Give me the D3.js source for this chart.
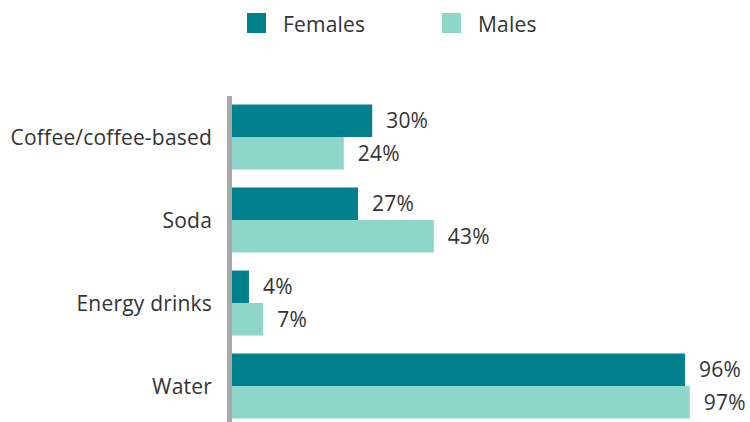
<!DOCTYPE html>
<html>
<head>
<meta charset="utf-8">
<script src="https://cdn.jsdelivr.net/npm/d3@7"></script>
<style>
  html, body { margin: 0; padding: 0; background: #fff; }
  svg { display: block; font-family: "Open Sans", "Noto Sans", sans-serif; }
</style>
</head>
<body>
<svg id="chart" width="750" height="422"></svg>
<script>
// Share of respondents drinking each beverage, by sex
const categories = ["Coffee/coffee-based", "Soda", "Energy drinks", "Water"];
const females = [30, 27, 4, 96];
const males = [24, 43, 7, 97];
const seriesNames = ["Females", "Males"];
const seriesColors = ["#00808c", "#8ed6c9"];

const series = [females, males];
const svg = d3.select("#chart");

const x = d3.scaleLinear().domain([0, 100]).range([230, 704]);

const y = d3.scaleBand()
  .domain(categories)
  .range([95.5, 427.5])
  .paddingInner(0.217)
  .paddingOuter(0.1085);

const inner = d3.scaleBand()
  .domain(seriesNames)
  .range([0, y.bandwidth()]);

// bars and value labels
const groups = svg.append("g").selectAll("g")
  .data(categories)
  .join("g")
  .attr("transform", d => `translate(0,${y(d)})`);

seriesNames.forEach((name, si) => {
  groups.append("rect")
    .attr("x", x(0))
    .attr("y", inner(name))
    .attr("width", (d, i) => x(series[si][i]) - x(0))
    .attr("height", inner.bandwidth())
    .attr("fill", seriesColors[si]);

  groups.append("text")
    .attr("x", (d, i) => x(series[si][i]) + 14)
    .attr("y", inner(name) + inner.bandwidth() / 2)
    .attr("dy", "0.36em")
    .attr("font-size", 21)
    .attr("letter-spacing", 0.2)
    .attr("fill", "#333")
    .text((d, i) => series[si][i] + "%");
});

// category labels
svg.append("g").selectAll("text")
  .data(categories)
  .join("text")
  .attr("x", 212)
  .attr("y", d => y(d) + y.bandwidth() / 2)
  .attr("dy", "0.36em")
  .attr("text-anchor", "end")
  .attr("font-size", 21)
  .attr("letter-spacing", 0.2)
  .attr("fill", "#333")
  .text(d => d);

// baseline
svg.append("line")
  .attr("x1", 229.5).attr("x2", 229.5)
  .attr("y1", 96).attr("y2", 422)
  .attr("stroke", "#a7a9ac")
  .attr("stroke-width", 5);

// legend
const legendX = [247, 442];
const legend = svg.append("g").selectAll("g")
  .data(seriesNames)
  .join("g")
  .attr("transform", (d, i) => `translate(${legendX[i]},13)`);

legend.append("rect")
  .attr("width", 19)
  .attr("height", 20)
  .attr("fill", (d, i) => seriesColors[i]);

legend.append("text")
  .attr("x", 36)
  .attr("y", 19)
  .attr("font-size", 21)
  .attr("letter-spacing", 0.2)
  .attr("fill", "#333")
  .text(d => d);
</script>
</body>
</html>
